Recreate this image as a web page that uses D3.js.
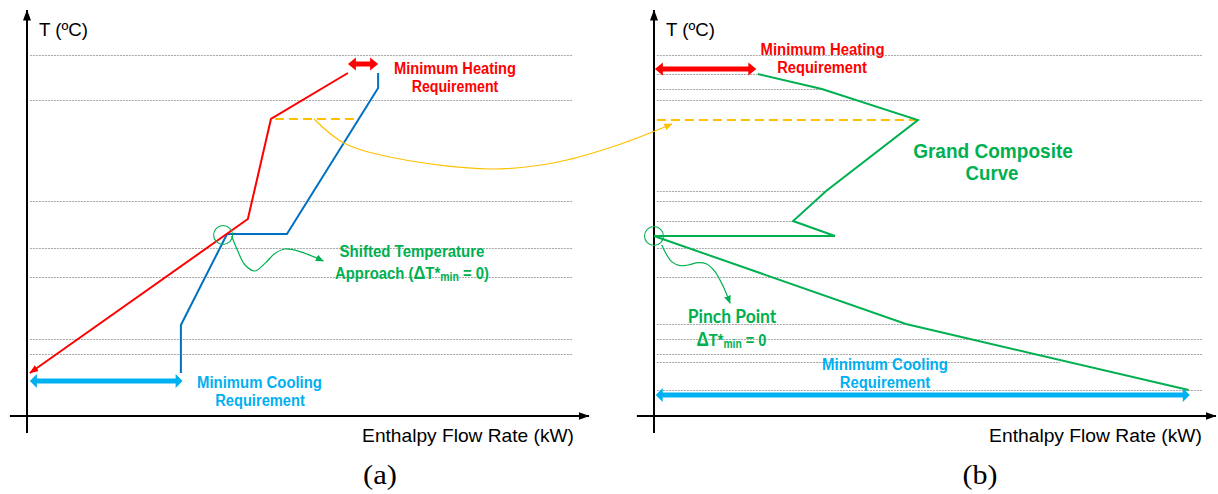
<!DOCTYPE html>
<html>
<head>
<meta charset="utf-8">
<script src="https://cdn.jsdelivr.net/npm/d3@7"></script>
<style>
  html, body { margin: 0; padding: 0; background: #ffffff; }
  svg { display: block; }
</style>
</head>
<body>
<svg id="chart" width="1218" height="494"></svg>
<script>
// ---- Data (temperature in °C, enthalpy flow in kW) ----
// Temperature levels shared by both diagrams (dotted guides)
const gridTemps = [180.5, 158, 107.5, 84, 69.5, 38.5, 31];
// Extra interval levels of the grand composite curve, each running from the axis to the curve
const gccLevelT = [171, 163.5, 112.5, 97.5, 46, 27, 13];
const gccLevelH = [365, 589, 604, 488, 884, 1425, 1926];

// Hot composite curve, drawn from its hot end down to the cold end
const hotH = [1126, 856, 775, 10];
const hotT = [171.5, 148.5, 98.5, 21.5];
// Cold composite curve
const coldH = [540, 540, 702, 912, 1232, 1232];
const coldT = [21.5, 45.5, 91, 91, 164, 171.5];

// Grand composite curve
const gccH = [365, 589, 926, 604, 488, 635, 0, 884, 1876];
const gccT = [171, 163.5, 148, 112.5, 97.5, 90, 90, 46, 13];

// Utility targets: [H start, H end, T level]
const heatA = [1126, 1232, 176];
const coolA = [10, 546, 17.5];
const heatB = [3, 359, 173.5];
const coolB = [6, 1880, 10.5];

// Dashed level of the hot-curve kink, in each diagram
const kinkA = [870, 1163, 148.5];
const kinkB = [10, 926, 148];

// Pinch markers [H, T]
const pinchA = [688, 90.5];
const pinchB = [0, 90];

// Connector from diagram (a) to diagram (b), in diagram (a) units
const linkH = [1007, 1112, 1291, 1625, 1846, 2063, 2263];
const linkT = [148.5, 136.5, 129, 123.5, 126.5, 135, 146];

// Pointer from the pinch of (a) to its note
const noteAH = [718, 738, 765, 800, 835, 870, 905, 958, 1040];
const noteAT = [90, 83, 75.5, 72.5, 76.3, 81.3, 83.5, 82.2, 77.5];
// Pointer from the pinch of (b) to its note
const noteBH = [27, 45, 62, 91, 120, 155, 185, 214, 243, 267];
const noteBT = [85.5, 80.5, 77.2, 75.2, 75.5, 76.7, 76, 72.2, 64.7, 56.4];

// Axis extents
const axisH = [-60, 1972];
const axisT = [-8.5, 203];
const gridHA = [10, 1916];
const gridHB = [10, 1926];

// ---- Colours ----
const RED = "#FF0000", BLUE = "#0070C0", CYAN = "#00B0F0", GREEN = "#00B050",
      ORANGE = "#FFC000", GRID = "#A6A6A6";

// ---- Scales ----
const yT = d3.scaleLinear().domain([0, 200]).range([416, 16]);
const xA = d3.scaleLinear().domain([0, 2000]).range([27, 597]);
const xB = d3.scaleLinear().domain([0, 2000]).range([654, 1224]);

const svg = d3.select("#chart");
const defs = svg.append("defs");

function marker(id, color, len, wid) {
  defs.append("marker")
    .attr("id", id)
    .attr("markerUnits", "userSpaceOnUse")
    .attr("viewBox", `0 0 ${len} ${wid}`)
    .attr("markerWidth", len)
    .attr("markerHeight", wid)
    .attr("refX", len - 0.5)
    .attr("refY", wid / 2)
    .attr("orient", "auto")
    .append("path")
    .attr("d", `M0,0L${len},${wid / 2}L0,${wid}Z`)
    .attr("fill", color);
}
marker("axisHead", "#000", 11, 8);
marker("redHead", RED, 9, 7);
marker("greenHead", GREEN, 8, 7);
marker("orangeHead", ORANGE, 8, 7);

const ANNOT = "'Liberation Sans Narrow','Arial Narrow','Liberation Sans',Arial,sans-serif";
const SANS = "'Liberation Sans',Arial,Helvetica,sans-serif";

// Text label; parts are tspans, the whole label is stretched to a set width
function label(g, parts, cx, y, size, color, width, family, weight) {
  const t = g.append("text")
    .attr("text-anchor", "middle")
    .attr("font-family", family)
    .attr("font-weight", weight)
    .attr("font-size", size)
    .attr("fill", color);
  parts.forEach(p => {
    const s = t.append("tspan").text(p.t);
    if (p.size) s.attr("font-size", p.size);
    if (p.dy) s.attr("dy", p.dy);
  });
  const w = t.node().getBBox().width;
  const sx = width ? width / w : 1;
  t.attr("transform", `translate(${cx},${y}) scale(${sx},1)`);
  return t;
}

function doubleArrow(g, x1, x2, y, color, body, headL, headW) {
  const pts = [
    [x1, y], [x1 + headL, y - headW / 2], [x1 + headL, y - body / 2],
    [x2 - headL, y - body / 2], [x2 - headL, y - headW / 2], [x2, y],
    [x2 - headL, y + headW / 2], [x2 - headL, y + body / 2],
    [x1 + headL, y + body / 2], [x1 + headL, y + headW / 2]
  ];
  g.append("polygon").attr("points", pts.map(p => p.join(",")).join(" ")).attr("fill", color);
}

function panel(x, gridH, extra, titleX, titleW) {
  const g = svg.append("g");
  // dotted temperature guides
  g.selectAll("line.grid").data(gridTemps).join("line")
    .attr("class", "grid")
    .attr("x1", x(gridH[0])).attr("x2", x(gridH[1]))
    .attr("y1", d => yT(d) + 0.5).attr("y2", d => yT(d) + 0.5)
    .attr("stroke", GRID).attr("stroke-width", 1).attr("stroke-dasharray", "2,1");
  if (extra) {
    g.selectAll("line.lvl").data(d3.zip(extra[0], extra[1])).join("line")
      .attr("class", "lvl")
      .attr("x1", x(gridH[0])).attr("x2", d => x(d[1]))
      .attr("y1", d => yT(d[0]) + 0.5).attr("y2", d => yT(d[0]) + 0.5)
      .attr("stroke", GRID).attr("stroke-width", 1).attr("stroke-dasharray", "2,1");
  }
  // axes
  g.append("line")
    .attr("x1", x(axisH[0])).attr("x2", x(axisH[1]))
    .attr("y1", yT(0)).attr("y2", yT(0))
    .attr("stroke", "#000").attr("stroke-width", 2)
    .attr("marker-end", "url(#axisHead)");
  g.append("line")
    .attr("x1", x(0)).attr("x2", x(0))
    .attr("y1", yT(axisT[0])).attr("y2", yT(axisT[1]))
    .attr("stroke", "#000").attr("stroke-width", 2)
    .attr("marker-end", "url(#axisHead)");
  // axis titles
  label(g, [{t: "T (ºC)"}], x(0) + 36.5, 35.5, 18, "#000", 49, SANS, "normal");
  label(g, [{t: "Enthalpy Flow Rate (kW)"}], titleX, 442, 18, "#000", titleW, SANS, "normal");
  return g;
}

// ================= Diagram (a): composite curves =================
const gA = panel(xA, gridHA, null, 468, 212);
const lineA = d3.line().x(d => xA(d[0])).y(d => yT(d[1]));

gA.append("path").datum(d3.zip(kinkA.slice(0, 2), [kinkA[2], kinkA[2]]))
  .attr("d", lineA).attr("fill", "none")
  .attr("stroke", ORANGE).attr("stroke-width", 2.2).attr("stroke-dasharray", "9,5");

gA.append("path").datum(d3.zip(coldH, coldT))
  .attr("d", lineA).attr("fill", "none")
  .attr("stroke", BLUE).attr("stroke-width", 2).attr("stroke-linejoin", "miter");

gA.append("path").datum(d3.zip(hotH, hotT))
  .attr("d", lineA).attr("fill", "none")
  .attr("stroke", RED).attr("stroke-width", 2)
  .attr("marker-end", "url(#redHead)");

gA.append("circle").attr("cx", xA(pinchA[0])).attr("cy", yT(pinchA[1])).attr("r", 9.5)
  .attr("fill", "none").attr("stroke", GREEN).attr("stroke-width", 1.1);

gA.append("path").datum(d3.zip(noteAH, noteAT))
  .attr("d", d3.line().x(d => xA(d[0])).y(d => yT(d[1])).curve(d3.curveCatmullRom.alpha(0.5)))
  .attr("fill", "none").attr("stroke", GREEN).attr("stroke-width", 1.2)
  .attr("marker-end", "url(#greenHead)");

doubleArrow(gA, xA(heatA[0]), xA(heatA[1]), yT(heatA[2]), RED, 5, 8, 13);
doubleArrow(gA, xA(coolA[0]), xA(coolA[1]), yT(coolA[2]), CYAN, 5, 7, 14);

label(gA, [{t: "Minimum Heating"}], 455, 74, 17, RED, 122, ANNOT, "bold");
label(gA, [{t: "Requirement"}], 455, 91.5, 17, RED, 87, ANNOT, "bold");
label(gA, [{t: "Shifted Temperature"}], 412, 257, 17, GREEN, 145, ANNOT, "bold");
label(gA, [{t: "Approach ("}, {t: "Δ", size: 19}, {t: "T*"}, {t: "min", size: 12, dy: 2}, {t: " = 0)", dy: -2}],
  412, 278.5, 17, GREEN, 154, ANNOT, "bold");
label(gA, [{t: "Minimum Cooling"}], 259.5, 388, 17, CYAN, 125, ANNOT, "bold");
label(gA, [{t: "Requirement"}], 260, 405.5, 17, CYAN, 90, ANNOT, "bold");

label(svg, [{t: "(a)"}], 380, 484, 28, "#000", 34, "'Liberation Serif','Times New Roman',serif", "normal");

// ================= Diagram (b): grand composite curve =================
const gB = panel(xB, gridHB, [gccLevelT, gccLevelH], 1095.5, 213);
const lineB = d3.line().x(d => xB(d[0])).y(d => yT(d[1]));

gB.append("path").datum(d3.zip(kinkB.slice(0, 2), [kinkB[2], kinkB[2]]))
  .attr("d", lineB).attr("fill", "none")
  .attr("stroke", ORANGE).attr("stroke-width", 2.2).attr("stroke-dasharray", "9,5");

gB.append("path").datum(d3.zip(gccH, gccT))
  .attr("d", lineB).attr("fill", "none")
  .attr("stroke", GREEN).attr("stroke-width", 2).attr("stroke-linejoin", "miter");

gB.append("circle").attr("cx", xB(pinchB[0])).attr("cy", yT(pinchB[1])).attr("r", 9.5)
  .attr("fill", "none").attr("stroke", GREEN).attr("stroke-width", 1.1);

gB.append("path").datum(d3.zip(noteBH, noteBT))
  .attr("d", d3.line().x(d => xB(d[0])).y(d => yT(d[1])).curve(d3.curveCatmullRom.alpha(0.5)))
  .attr("fill", "none").attr("stroke", GREEN).attr("stroke-width", 1.2)
  .attr("marker-end", "url(#greenHead)");

doubleArrow(gB, xB(heatB[0]), xB(heatB[1]), yT(heatB[2]), RED, 5, 8, 13);
doubleArrow(gB, xB(coolB[0]), xB(coolB[1]), yT(coolB[2]), CYAN, 5, 7, 14);

label(gB, [{t: "Minimum Heating"}], 822.5, 55, 17, RED, 124, ANNOT, "bold");
label(gB, [{t: "Requirement"}], 822, 72.5, 17, RED, 90, ANNOT, "bold");
label(gB, [{t: "Grand Composite"}], 993, 157.5, 19.5, GREEN, 160, SANS, "bold");
label(gB, [{t: "Curve"}], 992, 179.5, 19.5, GREEN, 53, SANS, "bold");
label(gB, [{t: "Pinch Point"}], 732, 323, 18, GREEN, 89, "Lato,'Open Sans',sans-serif", "bold");
label(gB, [{t: "Δ", size: 20}, {t: "T*"}, {t: "min", size: 12, dy: 2}, {t: " = 0", dy: -2}],
  731.5, 346, 17, GREEN, 70, ANNOT, "bold");
label(gB, [{t: "Minimum Cooling"}], 885, 370, 17, CYAN, 126, ANNOT, "bold");
label(gB, [{t: "Requirement"}], 885, 388, 17, CYAN, 91, ANNOT, "bold");

label(svg, [{t: "(b)"}], 980, 484, 28, "#000", 35, "'Liberation Serif','Times New Roman',serif", "normal");

// Connector carrying the kink level from (a) across to (b)
svg.append("path").datum(d3.zip(linkH, linkT))
  .attr("d", d3.line().x(d => xA(d[0])).y(d => yT(d[1])).curve(d3.curveCatmullRom.alpha(0.5)))
  .attr("fill", "none").attr("stroke", ORANGE).attr("stroke-width", 1.2)
  .attr("marker-end", "url(#orangeHead)");
</script>
</body>
</html>
